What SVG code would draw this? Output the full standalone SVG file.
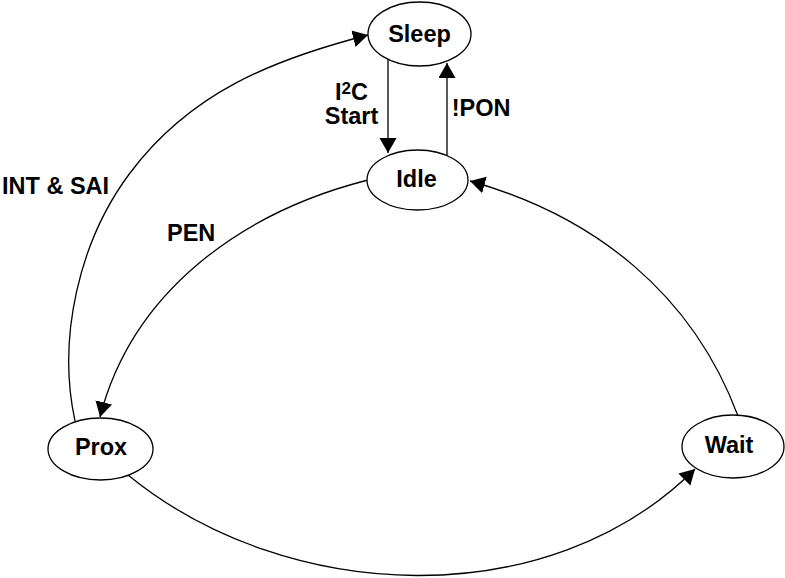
<svg xmlns="http://www.w3.org/2000/svg" width="785" height="578" viewBox="0 0 785 578">
<defs>
<marker id="arr" markerUnits="userSpaceOnUse" markerWidth="16" markerHeight="18" refX="15" refY="8.5" orient="auto" viewBox="0 0 16 18">
<path d="M0,0 L15,8.5 L0,17 z" fill="#000"/>
</marker>
<style>
.node ellipse{fill:#fff;stroke:#000;stroke-width:1.3}
.t{font-family:"Liberation Sans",Arial,Helvetica,sans-serif;font-weight:bold;font-size:23.5px;fill:#000}
.c{text-anchor:middle}
.edge{fill:none;stroke:#000;stroke-width:1.3;marker-end:url(#arr)}
</style>
</defs>
<rect width="785" height="578" fill="#fff"/>
<g id="connectors">
<path class="edge" d="M388,59 L388,153"/>
<path class="edge" d="M447,156 L447,63"/>
<path class="edge" d="M75,421 C57,338 79,241 130,173 C190,93 271,60 368,35"/>
<path class="edge" d="M368,180 C242,212 132.5,291 100,417"/>
<path class="edge" d="M128,475 C287,605 549,615 695,469"/>
<path class="edge" d="M738,416 C692.5,294 595,216 470,181"/>
</g>
<g id="labels">
<text class="t" x="2" y="194">INT &amp; SAI</text>
<text class="t" x="167" y="241">PEN</text>
<text class="t c" x="351.5" y="100">I<tspan font-size="17" dy="-6">2</tspan><tspan dy="6">C</tspan></text>
<text class="t c" x="351.5" y="123.5">Start</text>
<text class="t c" x="481" y="116">!PON</text>
</g>
<g id="sleep" class="node"><ellipse cx="419.5" cy="34" rx="51.5" ry="32"/><text class="t c" x="419.5" y="42">Sleep</text></g>
<g id="idle" class="node"><ellipse cx="417.5" cy="180" rx="50.5" ry="30"/><text class="t c" x="416.5" y="187">Idle</text></g>
<g id="prox" class="node"><ellipse cx="100.5" cy="449" rx="52.5" ry="31"/><text class="t c" x="101" y="455">Prox</text></g>
<g id="wait" class="node"><ellipse cx="733" cy="446.5" rx="51" ry="31.5"/><text class="t c" x="729" y="453">Wait</text></g>
</svg>
